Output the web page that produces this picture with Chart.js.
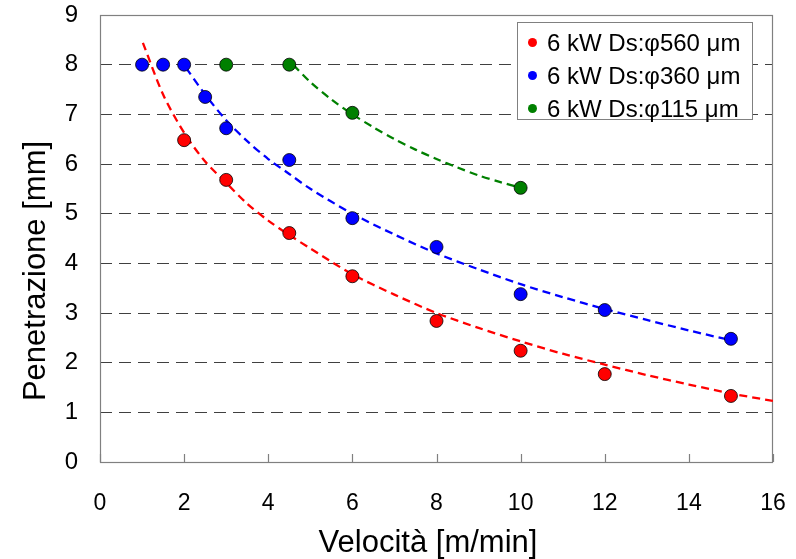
<!DOCTYPE html>
<html>
<head>
<meta charset="utf-8">
<script src="https://cdn.jsdelivr.net/npm/chart.js@4.4.1/dist/chart.umd.min.js"></script>
<style>
  body { margin: 0; background: #fff; }
  #wrap { position: relative; width: 796px; height: 559px; }
  #legend {
    position: absolute; left: 517px; top: 22px; width: 236px; height: 98px;
    box-sizing: border-box; border: 1px solid #808080; background: #fff;
    padding-top: 3px; font-family: "Liberation Sans", Arial, sans-serif; font-size: 24px; color: #000;
  }
  #legend .row { position: relative; height: 33px; line-height: 33px; padding-left: 29px; white-space: nowrap; }
  #legend .dot { position: absolute; left: 10px; top: 12px; width: 9px; height: 9px; border-radius: 50%; }
</style>
</head>
<body>
<div id="wrap">
  <canvas id="chart" width="796" height="559"></canvas>
  <div id="legend"></div>
</div>
<script>
// measured points (velocity m/min -> penetration mm)
const velRed = [2, 3, 4.5, 6, 8, 10, 12, 15];
const penRed = [6.48, 5.68, 4.61, 3.74, 2.84, 2.24, 1.77, 1.33];
const velBlue = [1, 1.5, 2, 2.5, 3, 4.5, 6, 8, 10, 12, 15];
const penBlue = [8, 8, 8, 7.35, 6.72, 6.08, 4.91, 4.33, 3.38, 3.06, 2.48];
const velGreen = [3, 4.5, 6, 10];
const penGreen = [8, 8, 7.03, 5.52];

// trend lines
const trendRedX = [1.02, 1.5, 2, 2.5, 3, 3.5, 4, 4.5, 5, 6, 7, 8, 9, 10, 11, 12, 13, 14, 15, 16];
const trendRedY = [8.44, 7.4, 6.63, 6.05, 5.62, 5.2, 4.86, 4.57, 4.3, 3.78, 3.37, 3.0, 2.7, 2.43, 2.18, 1.96, 1.75, 1.56, 1.38, 1.23];
const trendBlueX = [2.05, 2.5, 3, 3.5, 4, 4.5, 5, 6, 7, 8, 9, 10, 11, 12, 13, 14, 14.9];
const trendBlueY = [7.93, 7.4, 6.88, 6.46, 6.1, 5.8, 5.5, 5.0, 4.58, 4.2, 3.88, 3.58, 3.32, 3.08, 2.86, 2.65, 2.47];
const trendGreenX = [4.6, 5, 5.5, 6, 6.5, 7, 7.5, 8, 8.5, 9, 9.5, 10];
const trendGreenY = [7.99, 7.65, 7.3, 7.0, 6.74, 6.5, 6.29, 6.1, 5.93, 5.77, 5.64, 5.52];

const seriesNames = ['6 kW Ds:φ560 μm', '6 kW Ds:φ360 μm', '6 kW Ds:φ115 μm'];
const seriesColors = ['#ff0000', '#0000ff', '#008000'];
const xTicks = [0, 2, 4, 6, 8, 10, 12, 14, 16];
const yTicks = [0, 1, 2, 3, 4, 5, 6, 7, 8, 9];
const xTitle = 'Velocità [m/min]';
const yTitle = 'Penetrazione [mm]';

const FONT = '"Liberation Sans", Arial, sans-serif';

function pts(xs, ys) {
    return xs.map((x, i) => ({ x: x, y: ys[i] }));
}

function markers(name, color, xs, ys) {
    return {
        label: name, data: pts(xs, ys), order: 1,
        showLine: false, pointRadius: 6.5, pointHoverRadius: 6.5,
        pointBackgroundColor: color, pointBorderColor: '#000', pointBorderWidth: 0.8
    };
}

function trend(color, xs, ys) {
    return {
        label: '', data: pts(xs, ys), order: 2,
        showLine: true, pointRadius: 0, borderColor: color, borderWidth: 2.3,
        borderDash: [8, 5], tension: 0.3
    };
}

// frame round the plot plus the small inner tick marks on the x axis
const framePlugin = {
    id: 'frame',
    beforeDatasetsDraw(chart) {
        const { ctx, chartArea: a, scales } = chart;
        ctx.save();
        ctx.strokeStyle = '#808080';
        ctx.lineWidth = 1.2;
        ctx.beginPath();
        xTicks.forEach(v => {
            const px = Math.round(scales.x.getPixelForValue(v)) + 0.5;
            ctx.moveTo(px, a.bottom);
            ctx.lineTo(px, a.bottom - 8);
        });
        ctx.stroke();
        ctx.strokeRect(a.left + 0.5, a.top + 0.5, a.right - a.left - 1, a.bottom - a.top);
        ctx.restore();
    }
};

// axis titles, placed where the original has them (a bit off-centre)
const titlesPlugin = {
    id: 'titles',
    afterDraw(chart) {
        const ctx = chart.ctx;
        ctx.save();
        ctx.fillStyle = '#000';
        ctx.textAlign = 'center';
        ctx.textBaseline = 'alphabetic';
        ctx.font = '31px ' + FONT;
        ctx.fillText(xTitle, 428, 552);
        ctx.translate(45, 271);
        ctx.rotate(-Math.PI / 2);
        ctx.fillText(yTitle, 0, 0);
        ctx.restore();
    }
};

const chart = new Chart(document.getElementById('chart'), {
    type: 'scatter',
    data: {
        datasets: [
            markers(seriesNames[0], seriesColors[0], velRed, penRed),
            markers(seriesNames[1], seriesColors[1], velBlue, penBlue),
            markers(seriesNames[2], seriesColors[2], velGreen, penGreen),
            trend(seriesColors[0], trendRedX, trendRedY),
            trend(seriesColors[1], trendBlueX, trendBlueY),
            trend(seriesColors[2], trendGreenX, trendGreenY)
        ]
    },
    options: {
        responsive: false,
        animation: false,
        devicePixelRatio: 1,
        layout: { autoPadding: false, padding: { top: 15, right: 23, left: 0, bottom: 0 } },
        plugins: { legend: { display: false }, tooltip: { enabled: false } },
        scales: {
            x: {
                type: 'linear', min: 0, max: 16,
                afterBuildTicks: s => { s.ticks = xTicks.map(v => ({ value: v })); },
                afterFit: s => { s.height = 97; s.paddingLeft = 0; s.paddingRight = 0; },
                grid: { display: false, drawTicks: false },
                border: { display: false },
                ticks: { padding: 28, color: '#000', font: { family: FONT, size: 23 } }
            },
            y: {
                type: 'linear', min: 0, max: 9,
                afterBuildTicks: s => { s.ticks = yTicks.map(v => ({ value: v })); },
                afterFit: s => { s.width = 100; s.paddingTop = 0; s.paddingBottom = 0; },
                grid: {
                    drawTicks: false,
                    color: ctx => (ctx.tick && (ctx.tick.value === 0 || ctx.tick.value === 9)) ? 'rgba(0,0,0,0)' : '#404040',
                    lineWidth: 1
                },
                border: { display: false, dash: [12, 7] },
                ticks: { padding: 22, color: '#000', font: { family: FONT, size: 24 } }
            }
        }
    },
    plugins: [framePlugin, titlesPlugin]
});

// legend box drawn as html over the plot
const legend = document.getElementById('legend');
seriesNames.forEach((name, i) => {
    const row = document.createElement('div');
    row.className = 'row';
    row.innerHTML = '<span class="dot" style="background:' + seriesColors[i] + '"></span>' + name;
    legend.appendChild(row);
});
</script>
</body>
</html>
